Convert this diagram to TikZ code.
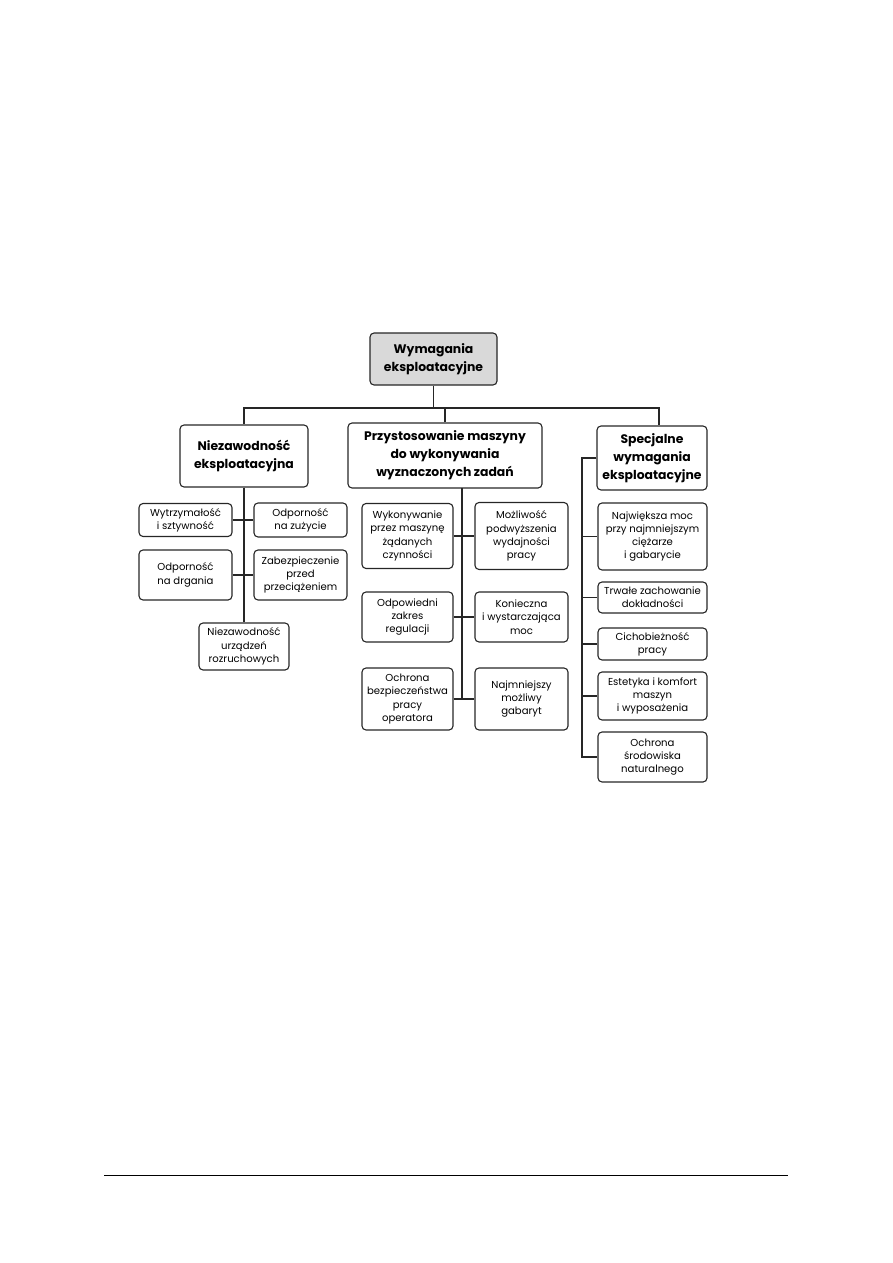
\documentclass[tikz,border=0pt]{standalone}
\usepackage{fontspec}
\setmainfont{Poppins}
\begin{document}
\begin{tikzpicture}[x=1pt,y=-1pt,
  box/.style={draw=black!85, rounded corners=4pt, line width=1.1pt, align=center, inner sep=0pt,
    font=\fontsize{10.1}{13.3}\selectfont},
  head/.style={box, font=\bfseries\fontsize{12.4}{18}\selectfont},
  conn/.style={draw=black!85, line width=1.5pt}]
\useasboundingbox (0,0) rectangle (893,1263);
% footer rule
\coordinate (fl) at (104,1175);
\coordinate (fr) at (788,1175);
\draw[line width=0.9pt] (fl) -- (fr);

% top level
\node[head, fill=black!15, minimum width=127, minimum height=52] (top) at (433.5,359) {Wymagania\\eksploatacyjne};
\node[head, minimum width=128, minimum height=62] (niez) at (244,456) {Niezawodność\\eksploatacyjna};
\node[head, minimum width=194, minimum height=65] (przy) at (445,455.5) {Przystosowanie maszyny\\do wykonywania\\wyznaczonych zadań};
\node[head, minimum width=110, minimum height=64] (spec) at (652,458) {Specjalne\\wymagania\\eksploatacyjne};

\coordinate (hl) at (244,408);
\coordinate (hr) at (659,408);
\draw[conn] (top.south) -- (top.south |- hl);
\draw[conn] (niez.north) -- (hl) -- (hr) -- (hr |- spec.north);
\draw[conn] (przy.north) -- (przy.north |- hl);

% left column
\node[box, minimum width=93, minimum height=33] (wytrz) at (185.5,520) {Wytrzymałość\\i sztywność};
\node[box, minimum width=93, minimum height=34] (odpz) at (300.5,520) {Odporność\\na zużycie};
\node[box, minimum width=93, minimum height=50] (odpd) at (185.5,575) {Odporność\\na drgania};
\node[box, minimum width=93, minimum height=50] (zab) at (300.5,575) {Zabezpieczenie\\przed\\przeciążeniem};
\node[box, minimum width=90, minimum height=47] (nurz) at (244,646.5) {Niezawodność\\urządzeń\\rozruchowych};
\draw[conn] (niez.south) -- (nurz.north);
\draw[conn] (wytrz.east) -- (odpz.west);
\draw[conn] (odpd.east) -- (zab.west);

% middle column
\node[box, minimum width=91, minimum height=65] (wyk) at (407.5,536) {Wykonywanie\\przez maszynę\\żądanych\\czynności};
\node[box, minimum width=93, minimum height=67] (mozl) at (521.5,536) {Możliwość\\podwyższenia\\wydajności\\pracy};
\node[box, minimum width=91, minimum height=50] (odpw) at (407.5,617) {Odpowiedni\\zakres\\regulacji};
\node[box, minimum width=93, minimum height=50] (kon) at (521.5,617) {Konieczna\\i wystarczająca\\moc};
\node[box, minimum width=91, minimum height=62] (ochb) at (407.5,699) {Ochrona\\bezpieczeństwa\\pracy\\operatora};
\node[box, minimum width=93, minimum height=62] (najm) at (521.5,699) {Najmniejszy\\możliwy\\gabaryt};
\coordinate (mtop) at (462,488);
\coordinate (mbot) at (462,699);
\draw[conn] (mtop) -- (mbot);
\draw[conn] (wyk.east) -- (mozl.west);
\draw[conn] (odpw.east) -- (kon.west);
\draw[conn] (ochb.east) -- (najm.west);

% right column
\node[box, minimum width=109, minimum height=67] (najw) at (652.5,536.5) {Największa moc\\przy najmniejszym\\ciężarze\\i gabarycie};
\node[box, minimum width=109, minimum height=31] (trw) at (652.5,597.5) {Trwałe zachowanie\\dokładności};
\node[box, minimum width=109, minimum height=32] (cich) at (652.5,644) {Cichobieżność\\pracy};
\node[box, minimum width=109, minimum height=48] (est) at (652.5,696) {Estetyka i komfort\\maszyn\\i wyposażenia};
\node[box, minimum width=109, minimum height=50] (ochs) at (652.5,757) {Ochrona\\środowiska\\naturalnego};
\coordinate (rv) at (582,462);
\draw[conn] (spec.west) -- (spec.west -| rv) -- (ochs.west -| rv) -- (ochs.west);
\draw[conn] (najw.west -| rv) -- (najw.west);
\draw[conn] (trw.west -| rv) -- (trw.west);
\draw[conn] (cich.west -| rv) -- (cich.west);
\draw[conn] (est.west -| rv) -- (est.west);
\end{tikzpicture}
\end{document}
